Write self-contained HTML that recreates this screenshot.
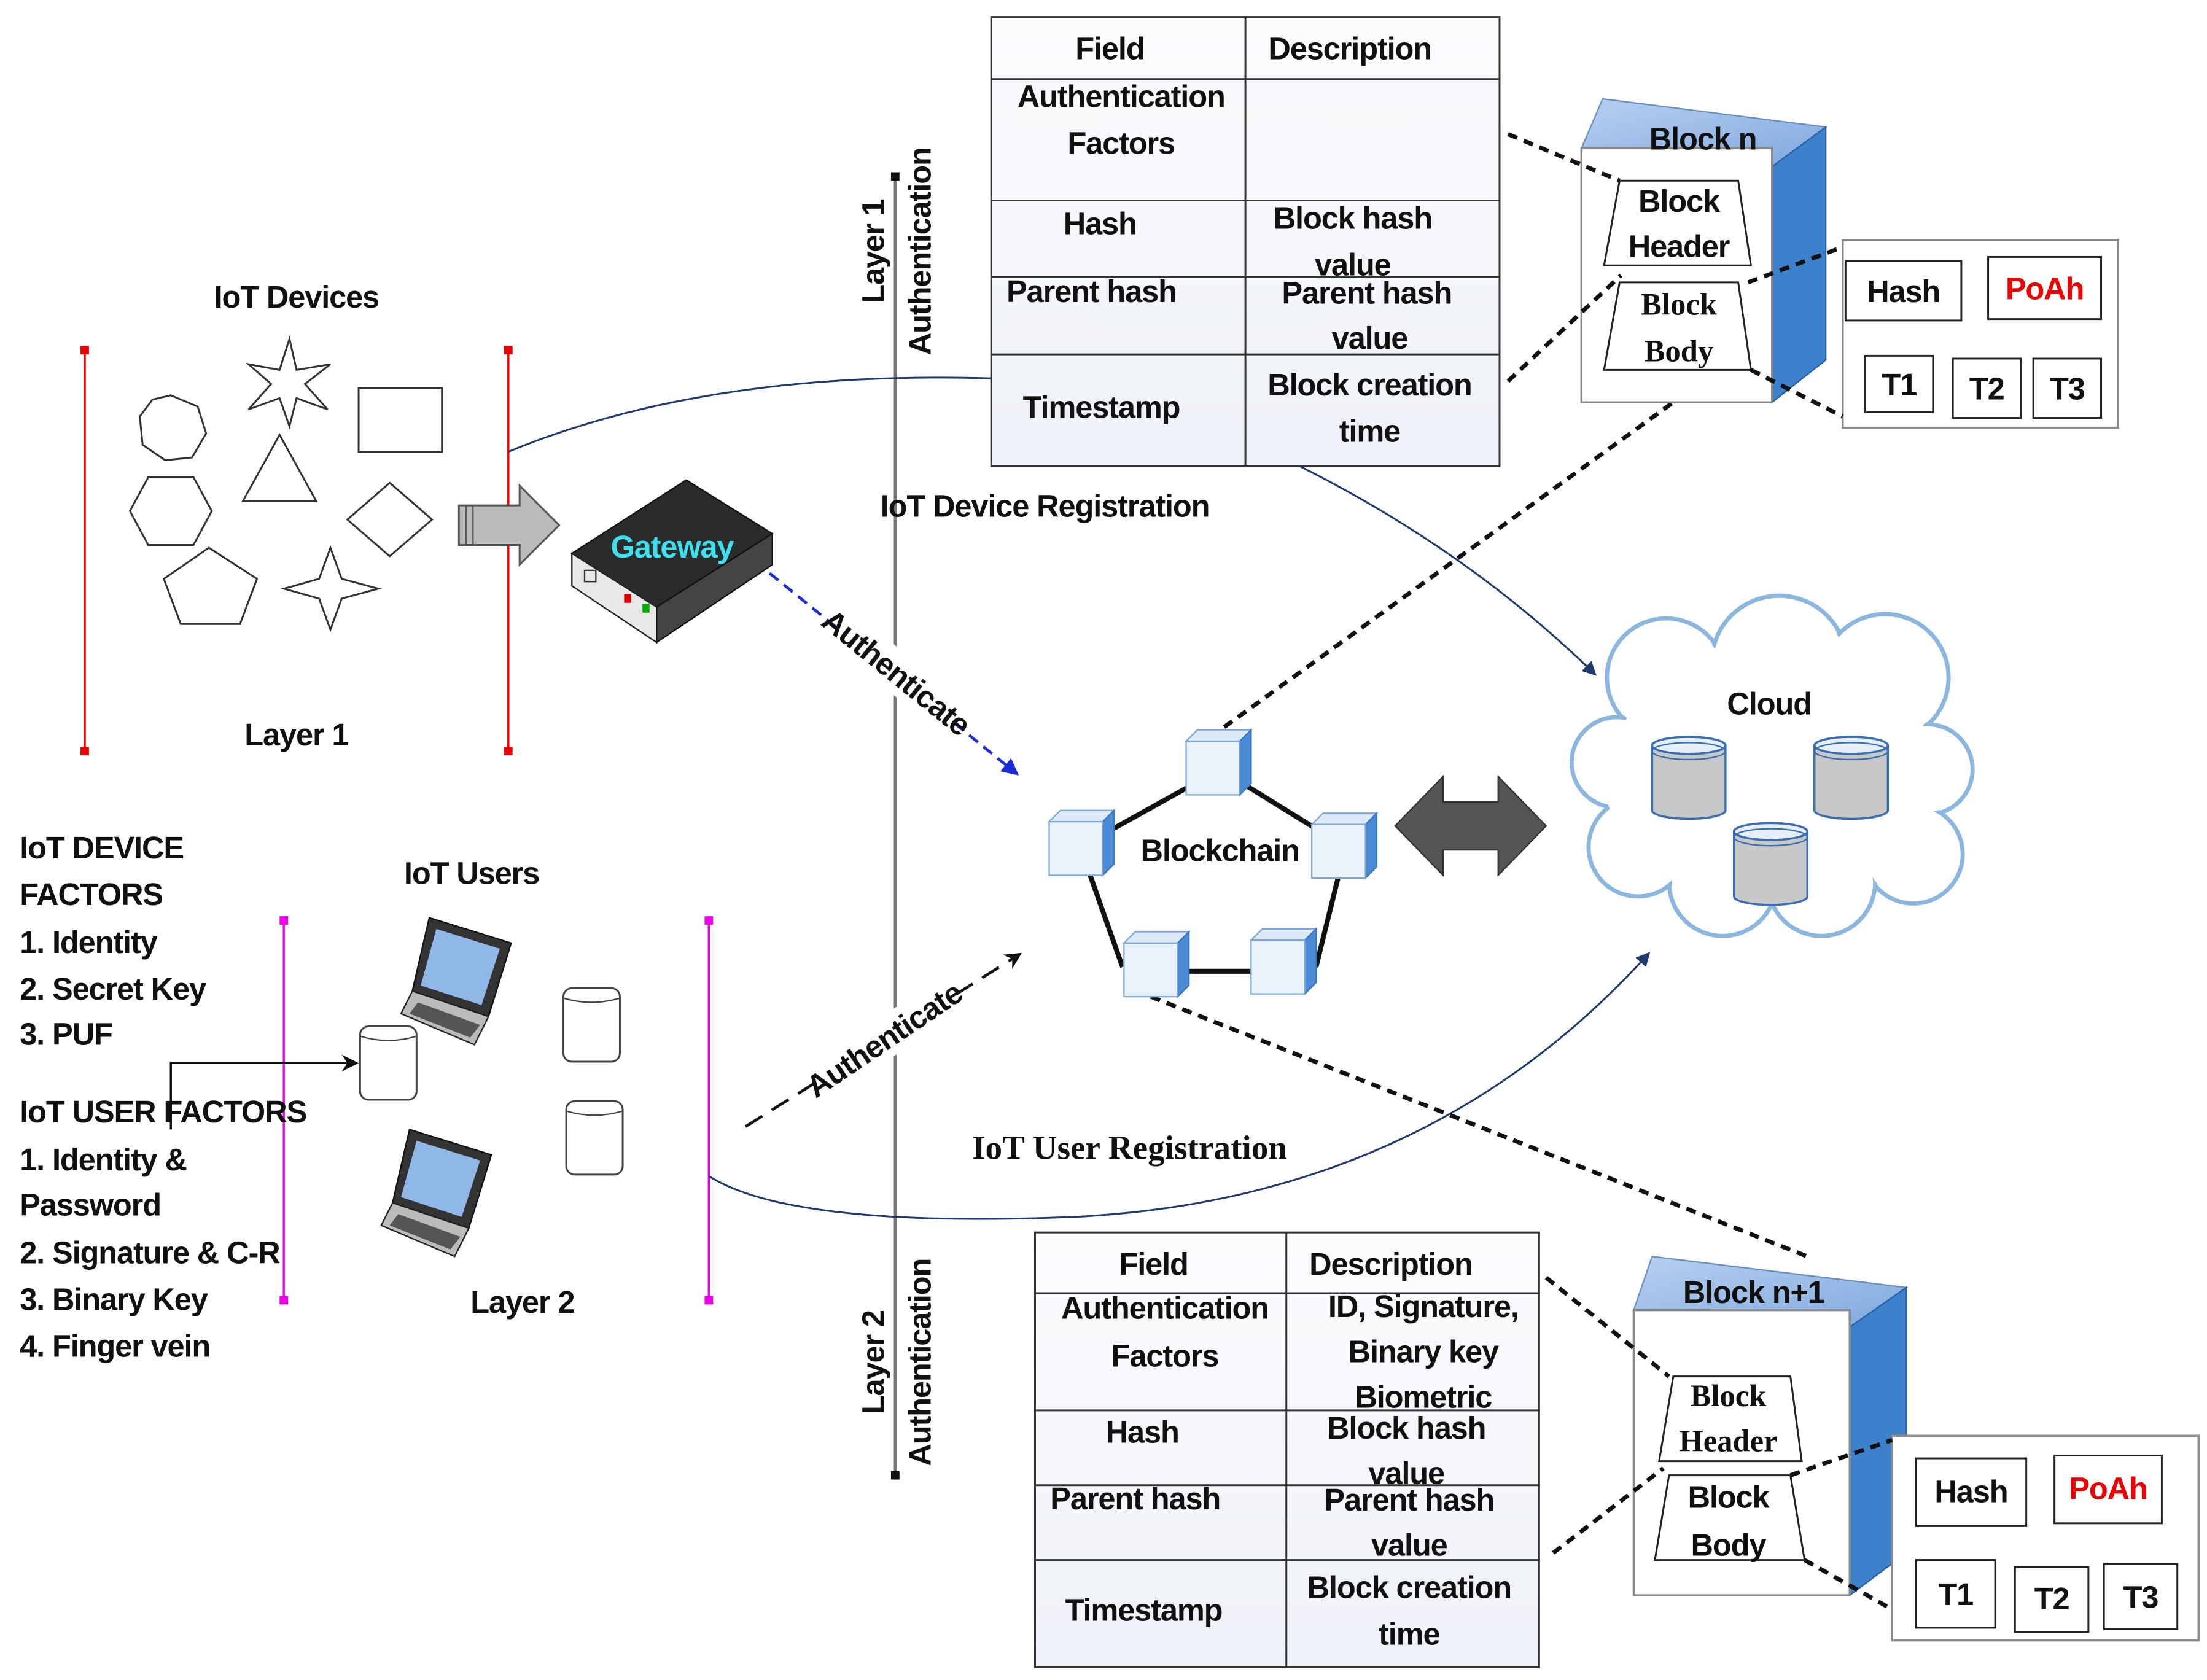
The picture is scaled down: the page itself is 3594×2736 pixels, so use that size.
<!DOCTYPE html>
<html><head><meta charset="utf-8">
<style>
html,body{margin:0;padding:0;background:#fff;}
svg{display:block;}
text{font-family:"Liberation Sans",sans-serif;font-weight:bold;fill:#111;letter-spacing:-0.5px;}
.s{font-family:"Liberation Serif",serif;letter-spacing:0;}
</style></head>
<body>
<svg width="3594" height="2736" viewBox="0 0 1563 1190" preserveAspectRatio="none" xmlns="http://www.w3.org/2000/svg">
<defs>
<linearGradient id="cell" x1="0" y1="0" x2="0" y2="1"><stop offset="0" stop-color="#fbfcfe"/><stop offset="1" stop-color="#eef1f7"/></linearGradient>
<linearGradient id="top" x1="0" y1="0" x2="1" y2="1"><stop offset="0" stop-color="#b8d0f0"/><stop offset="1" stop-color="#7fa8de"/></linearGradient>
<marker id="ab" markerWidth="10" markerHeight="10" refX="9" refY="5" orient="auto" markerUnits="userSpaceOnUse"><path d="M0,0 L10,5 L0,10 z" fill="#1f3a6e"/></marker>
<marker id="ablue" markerWidth="12" markerHeight="12" refX="10" refY="6" orient="auto" markerUnits="userSpaceOnUse"><path d="M0,0 L12,6 L0,12 z" fill="#1a2bd8"/></marker>
<marker id="ak" markerWidth="12" markerHeight="12" refX="10" refY="6" orient="auto" markerUnits="userSpaceOnUse"><path d="M0,0 L12,6 L0,12 L4,6 z" fill="#111"/></marker>
<g id="cube">
<path d="M0,8 L8,0 L46,0 L38,8 z" fill="#dceaf8" stroke="#7ea7d6"/>
<path d="M38,8 L46,0 L46,38 L38,46 z" fill="#4a8ad6" stroke="#3a78c0"/>
<rect x="0" y="8" width="38" height="38" fill="#eaf3fc" stroke="#7ea7d6"/>
</g>
<g id="cyl">
<path d="M0,6 L0,52 A26,6 0 0 0 52,52 L52,6" fill="#c8c8c8" stroke="#3b6fb3" stroke-width="1.5"/>
<ellipse cx="26" cy="6" rx="26" ry="6" fill="#e6eef8" stroke="#3b6fb3" stroke-width="1.5"/>
<ellipse cx="26" cy="10" rx="26" ry="6" fill="none" stroke="#3b6fb3" stroke-width="1"/>
</g>
<g id="can">
<rect x="0" y="0" width="40" height="52" rx="6" fill="#fff" stroke="#444" stroke-width="1.3"/>
<path d="M0,7 Q20,13 40,7" fill="none" stroke="#444" stroke-width="1"/>
</g>
<g id="laptop">
<path d="M20,0 L78,18 L62,70 L8,52 z" fill="#333" stroke="#111"/>
<path d="M25,8 L70,22 L57,62 L14,48 z" fill="#8fb8e8"/>
<path d="M8,52 L62,70 L52,90 L0,68 z" fill="#bbb" stroke="#222"/>
<path d="M12,60 L56,76 L49,85 L6,68 z" fill="#555"/>
</g>
</defs>

<line x1="60" y1="248" x2="60" y2="532" stroke="#e00" stroke-width="1.5"/>
<rect x="57" y="245" width="6" height="6" fill="#e00"/><rect x="57" y="529" width="6" height="6" fill="#e00"/>
<line x1="360" y1="248" x2="360" y2="532" stroke="#e00" stroke-width="1.5"/>
<rect x="357" y="245" width="6" height="6" fill="#e00"/><rect x="357" y="529" width="6" height="6" fill="#e00"/>
<line x1="201" y1="652" x2="201" y2="921" stroke="#e0e" stroke-width="1.5"/>
<rect x="198" y="649" width="6" height="6" fill="#e0e"/><rect x="198" y="918" width="6" height="6" fill="#e0e"/>
<line x1="502" y1="652" x2="502" y2="921" stroke="#e0e" stroke-width="1.5"/>
<rect x="499" y="649" width="6" height="6" fill="#e0e"/><rect x="499" y="918" width="6" height="6" fill="#e0e"/>

<line x1="634" y1="125" x2="634" y2="1045" stroke="#777" stroke-width="2"/>
<rect x="631" y="122" width="6" height="6" fill="#111"/><rect x="631" y="1042" width="6" height="6" fill="#111"/>
<text transform="translate(626,178) rotate(-90)" text-anchor="middle" font-size="22">Layer 1</text>
<text transform="translate(659,178) rotate(-90)" text-anchor="middle" font-size="22">Authentication</text>
<text transform="translate(626,965) rotate(-90)" text-anchor="middle" font-size="22">Layer 2</text>
<text transform="translate(659,965) rotate(-90)" text-anchor="middle" font-size="22">Authentication</text>

<text x="210" y="218" text-anchor="middle" font-size="22">IoT Devices</text>
<g fill="#fff" stroke="#333" stroke-width="1.3">
<polygon points="121,280 140,288 146,307 136,324 117,326 101,315 99,295 108,283"/>
<polygon points="105,338 137,338 150,362 137,386 105,386 92,362"/>
<polygon points="148,388 182,410 170,442 128,442 116,410"/>
<polygon points="205,240 210,262 234,258 216,272 232,290 210,282 205,302 198,282 176,290 192,272 176,258 198,262"/>
<polygon points="198,308 224,355 172,355"/>
<rect x="254" y="275" width="59" height="45"/>
<polygon points="276,342 306,368 276,394 246,368"/>
<polygon points="234,388 242,410 268,417 242,424 234,446 226,424 201,417 226,410"/>
</g>
<text x="210" y="528" text-anchor="middle" font-size="22">Layer 1</text>

<path d="M325,358 L368,358 L368,344 L396,372 L368,400 L368,386 L325,386 z" fill="#bbb" stroke="#555" stroke-width="1.3"/>
<line x1="330" y1="358" x2="330" y2="386" stroke="#555"/><line x1="335" y1="358" x2="335" y2="386" stroke="#555"/>

<path d="M405,392 L486,340 L547,378 L465,430 z" fill="#2b2b2b" stroke="#111"/>
<path d="M405,392 L465,430 L465,455 L405,415 z" fill="#e8e8e8" stroke="#222"/>
<path d="M465,430 L547,378 L547,400 L465,455 z" fill="#444" stroke="#111"/>
<rect x="442" y="421" width="5" height="6" fill="#d00"/><rect x="455" y="428" width="5" height="6" fill="#0a0"/>
<rect x="414" y="404" width="8" height="8" fill="none" stroke="#333"/>
<text x="476" y="395" text-anchor="middle" font-size="22" style="fill:#3ee0ee">Gateway</text>

<path d="M360,320 Q500,262 702,268" fill="none" stroke="#1f3a6e" stroke-width="1.3"/>
<path d="M920,330 Q1040,390 1130,478" fill="none" stroke="#1f3a6e" stroke-width="1.3" marker-end="url(#ab)"/>
<path d="M502,833 Q560,870 760,862 Q1010,850 1168,675" fill="none" stroke="#1f3a6e" stroke-width="1.3" marker-end="url(#ab)"/>

<g stroke="#333" stroke-width="1.3">
<rect x="702" y="12" width="360" height="318" fill="url(#cell)"/>
<line x1="882" y1="12" x2="882" y2="330"/>
<line x1="702" y1="56" x2="1062" y2="56"/><line x1="702" y1="142" x2="1062" y2="142"/>
<line x1="702" y1="196" x2="1062" y2="196"/><line x1="702" y1="251" x2="1062" y2="251"/>
</g>
<g font-size="22">
<text x="786" y="42" text-anchor="middle">Field</text>
<text x="956" y="42" text-anchor="middle">Description</text>
<text x="794" y="76" text-anchor="middle">Authentication</text>
<text x="794" y="109" text-anchor="middle">Factors</text>
<text x="779" y="166" text-anchor="middle">Hash</text>
<text x="958" y="162" text-anchor="middle">Block hash</text>
<text x="958" y="195" text-anchor="middle">value</text>
<text x="773" y="214" text-anchor="middle">Parent hash</text>
<text x="968" y="215" text-anchor="middle">Parent hash</text>
<text x="970" y="247" text-anchor="middle">value</text>
<text x="780" y="296" text-anchor="middle">Timestamp</text>
<text x="970" y="280" text-anchor="middle">Block creation</text>
<text x="970" y="313" text-anchor="middle">time</text>
</g>
<text x="740" y="366" text-anchor="middle" font-size="22">IoT Device Registration</text>

<g stroke="#333" stroke-width="1.3">
<rect x="733" y="873" width="357" height="308" fill="url(#cell)"/>
<line x1="911" y1="873" x2="911" y2="1181"/>
<line x1="733" y1="916" x2="1090" y2="916"/><line x1="733" y1="999" x2="1090" y2="999"/>
<line x1="733" y1="1052" x2="1090" y2="1052"/><line x1="733" y1="1105" x2="1090" y2="1105"/>
</g>
<g font-size="22">
<text x="817" y="903" text-anchor="middle">Field</text>
<text x="985" y="903" text-anchor="middle">Description</text>
<text x="825" y="934" text-anchor="middle">Authentication</text>
<text x="825" y="968" text-anchor="middle">Factors</text>
<text x="1008" y="933" text-anchor="middle">ID, Signature,</text>
<text x="1008" y="965" text-anchor="middle">Binary key</text>
<text x="1008" y="997" text-anchor="middle">Biometric</text>
<text x="809" y="1022" text-anchor="middle">Hash</text>
<text x="996" y="1019" text-anchor="middle">Block hash</text>
<text x="996" y="1051" text-anchor="middle">value</text>
<text x="804" y="1069" text-anchor="middle">Parent hash</text>
<text x="998" y="1070" text-anchor="middle">Parent hash</text>
<text x="998" y="1102" text-anchor="middle">value</text>
<text x="810" y="1148" text-anchor="middle">Timestamp</text>
<text x="998" y="1132" text-anchor="middle">Block creation</text>
<text x="998" y="1165" text-anchor="middle">time</text>
</g>

<g stroke="#111" stroke-width="3" stroke-dasharray="7,5" fill="none">
<line x1="867" y1="515" x2="1185" y2="285"/>
<line x1="815" y1="706" x2="1280" y2="890"/>
</g>

<!-- Block n -->
<path d="M1120,105 L1135,70 L1293,90 L1255,118 z" fill="url(#top)" stroke="#6b8fc0"/>
<path d="M1255,118 L1293,90 L1293,255 L1255,285 z" fill="#3d80cc" stroke="#2a62a8"/>
<rect x="1120" y="105" width="135" height="180" fill="#fff" stroke="#888" stroke-width="1.5"/>
<text x="1206" y="106" text-anchor="middle" font-size="22">Block n</text>
<polygon points="1147,128 1231,128 1240,188 1136,188" fill="#fff" stroke="#222" stroke-width="1.3"/>
<text x="1189" y="150" text-anchor="middle" font-size="22">Block</text>
<text x="1189" y="182" text-anchor="middle" font-size="22">Header</text>
<polygon points="1147,200 1231,200 1240,262 1136,262" fill="#fff" stroke="#222" stroke-width="1.3"/>
<text x="1189" y="223" text-anchor="middle" font-size="22" class="s">Block</text>
<text x="1189" y="256" text-anchor="middle" font-size="22" class="s">Body</text>
<rect x="1305" y="170" width="195" height="133" fill="#fff" stroke="#888" stroke-width="1.5"/>
<g stroke="#222" stroke-width="1.3" fill="#fff">
<rect x="1307" y="185" width="82" height="42"/><rect x="1408" y="182" width="80" height="44"/>
<rect x="1321" y="252" width="48" height="40"/><rect x="1383" y="254" width="48" height="42"/><rect x="1440" y="254" width="48" height="42"/>
</g>
<g font-size="22" text-anchor="middle">
<text x="1348" y="214">Hash</text><text x="1448" y="212" style="fill:#e00">PoAh</text>
<text x="1345" y="280">T1</text><text x="1407" y="283">T2</text><text x="1464" y="283">T3</text>
</g>

<!-- Block n+1 -->
<path d="M1157,928 L1170,890 L1350,912 L1310,940 z" fill="url(#top)" stroke="#6b8fc0"/>
<path d="M1310,940 L1350,912 L1350,1100 L1310,1130 z" fill="#3d80cc" stroke="#2a62a8"/>
<rect x="1157" y="928" width="153" height="202" fill="#fff" stroke="#888" stroke-width="1.5"/>
<text x="1242" y="923" text-anchor="middle" font-size="22">Block n+1</text>
<polygon points="1185,975 1268,975 1276,1035 1175,1035" fill="#fff" stroke="#222" stroke-width="1.3"/>
<text x="1224" y="996" text-anchor="middle" font-size="22" class="s">Block</text>
<text x="1224" y="1028" text-anchor="middle" font-size="22" class="s">Header</text>
<polygon points="1182,1045 1268,1045 1278,1105 1172,1105" fill="#fff" stroke="#222" stroke-width="1.3"/>
<text x="1224" y="1068" text-anchor="middle" font-size="22">Block</text>
<text x="1224" y="1102" text-anchor="middle" font-size="22">Body</text>
<rect x="1340" y="1017" width="217" height="145" fill="#fff" stroke="#888" stroke-width="1.5"/>
<g stroke="#222" stroke-width="1.3" fill="#fff">
<rect x="1357" y="1033" width="78" height="48"/><rect x="1455" y="1031" width="76" height="48"/>
<rect x="1357" y="1105" width="56" height="48"/><rect x="1427" y="1110" width="52" height="46"/><rect x="1490" y="1108" width="52" height="46"/>
</g>
<g font-size="22" text-anchor="middle">
<text x="1396" y="1064">Hash</text><text x="1493" y="1062" style="fill:#e00">PoAh</text>
<text x="1385" y="1137">T1</text><text x="1453" y="1140">T2</text><text x="1516" y="1139">T3</text>
</g>

<!-- dashed connectors on top of blocks -->
<g stroke="#111" stroke-width="3" stroke-dasharray="7,5" fill="none">
<line x1="1068" y1="95" x2="1147" y2="128"/>
<line x1="1068" y1="270" x2="1148" y2="195"/>
<line x1="1238" y1="200" x2="1305" y2="175"/>
<line x1="1240" y1="262" x2="1305" y2="295"/>
<line x1="1095" y1="905" x2="1182" y2="975"/>
<line x1="1100" y1="1100" x2="1178" y2="1040"/>
<line x1="1268" y1="1045" x2="1340" y2="1020"/>
<line x1="1278" y1="1105" x2="1340" y2="1140"/>
</g>

<!-- cloud -->
<g fill="#fff" stroke="#8ab6e0" stroke-width="3">
<circle cx="1180" cy="480" r="42"/><circle cx="1260" cy="470" r="48"/><circle cx="1335" cy="480" r="45"/>
<circle cx="1365" cy="545" r="32"/><circle cx="1355" cy="605" r="35"/><circle cx="1290" cy="625" r="38"/>
<circle cx="1220" cy="625" r="38"/><circle cx="1160" cy="600" r="35"/><circle cx="1145" cy="540" r="32"/>
</g>
<g fill="#fff">
<circle cx="1180" cy="480" r="40"/><circle cx="1260" cy="470" r="46"/><circle cx="1335" cy="480" r="43"/>
<circle cx="1365" cy="545" r="30"/><circle cx="1355" cy="605" r="33"/><circle cx="1290" cy="625" r="36"/>
<circle cx="1220" cy="625" r="36"/><circle cx="1160" cy="600" r="33"/><circle cx="1145" cy="540" r="30"/>
<ellipse cx="1255" cy="550" rx="120" ry="80"/>
</g>
<text x="1253" y="506" text-anchor="middle" font-size="22">Cloud</text>
<use href="#cyl" x="1170" y="522"/><use href="#cyl" x="1285" y="522"/><use href="#cyl" x="1228" y="583"/>

<path d="M988,585 L1022,550 L1022,568 L1061,568 L1061,550 L1095,585 L1061,620 L1061,602 L1022,602 L1022,620 z" fill="#555" stroke="#333"/>

<g stroke="#111" stroke-width="3.5">
<line x1="864" y1="545" x2="953" y2="600"/><line x1="953" y1="600" x2="932" y2="685"/>
<line x1="910" y1="688" x2="820" y2="688"/><line x1="795" y1="685" x2="765" y2="600"/><line x1="765" y1="600" x2="864" y2="545"/>
</g>
<use href="#cube" x="840" y="517"/><use href="#cube" x="929" y="576"/><use href="#cube" x="886" y="658"/>
<use href="#cube" x="796" y="660"/><use href="#cube" x="743" y="574"/>
<text x="864" y="610" text-anchor="middle" font-size="22">Blockchain</text>

<line x1="545" y1="406" x2="720" y2="548" stroke="#1a2bd8" stroke-width="2" stroke-dasharray="8,5" marker-end="url(#ablue)"/>
<rect x="585" y="462" width="100" height="28" fill="#fff" transform="rotate(39,635,476)"/>
<text x="635" y="484" text-anchor="middle" font-size="22" transform="rotate(39,635,476)">Authenticate</text>
<line x1="528" y1="798" x2="722" y2="676" stroke="#111" stroke-width="2" stroke-dasharray="14,8" marker-end="url(#ak)"/>
<rect x="568" y="722" width="116" height="28" fill="#fff" transform="rotate(-34,626,736)"/>
<text x="626" y="744" text-anchor="middle" font-size="22" transform="rotate(-34,626,736)">Authenticate</text>

<g font-size="22">
<text x="14" y="608">IoT DEVICE</text>
<text x="14" y="641">FACTORS</text>
<text x="14" y="675">1. Identity</text>
<text x="14" y="708">2. Secret Key</text>
<text x="14" y="740">3. PUF</text>
<text x="14" y="795">IoT USER FACTORS</text>
<text x="14" y="829">1. Identity &amp;</text>
<text x="14" y="861">Password</text>
<text x="14" y="895">2. Signature &amp; C-R</text>
<text x="14" y="928">3. Binary Key</text>
<text x="14" y="961">4. Finger vein</text>
<text x="334" y="626" text-anchor="middle">IoT Users</text>
<text x="370" y="930" text-anchor="middle">Layer 2</text>
</g>
<path d="M121,800 L121,753 L252,753" fill="none" stroke="#111" stroke-width="1.5" marker-end="url(#ak)"/>

<use href="#laptop" x="284" y="650"/>
<use href="#laptop" x="270" y="800"/>
<use href="#can" x="255" y="727"/>
<use href="#can" x="399" y="700"/>
<use href="#can" x="401" y="780"/>

<text x="800" y="821" text-anchor="middle" font-size="24" class="s">IoT User Registration</text>
</svg>
</body></html>
